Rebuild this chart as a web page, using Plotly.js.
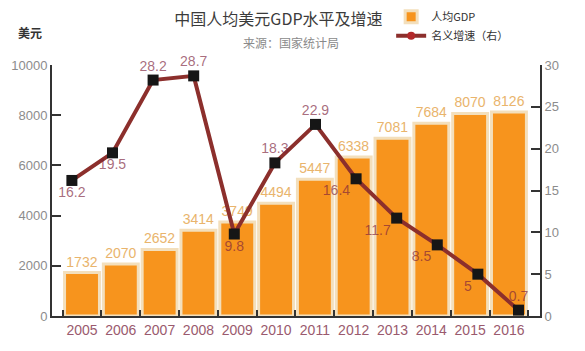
<!DOCTYPE html>
<html>
<head>
<meta charset="utf-8">
<script src="https://cdn.plot.ly/plotly-3.0.1.min.js"></script>
<style>html,body{margin:0;padding:0;background:#fff;}#chart{width:585px;height:351px;}</style>
</head>
<body>
<div id="chart"></div>
<script>
const years = ['2005','2006','2007','2008','2009','2010','2011','2012','2013','2014','2015','2016'];
const gdpPerCapita = [1732, 2070, 2652, 3414, 3749, 4494, 5447, 6338, 7081, 7684, 8070, 8126];
const nominalGrowth = [16.2, 19.5, 28.2, 28.7, 9.8, 18.3, 22.9, 16.4, 11.7, 8.5, 5, 0.7];
const growthLabelPos = ['bottom center','bottom center','top center','top center','bottom center','top center','top center','bottom left','bottom left','bottom left','bottom left','top center'];

const yearNums = years.map(Number);
const narrow = 'Liberation Sans, Arial, sans-serif';
const cjk = 'Noto Sans CJK SC, Noto Sans, sans-serif';

const barTrace = {
  type: 'bar', name: '人均GDP', x: years, y: gdpPerCapita,
  xaxis: 'x', yaxis: 'y',
  marker: {color: '#F7941D', line: {color: '#F3DFBC', width: 3}},
  width: 0.9,
  text: gdpPerCapita.map(String), textposition: 'outside',
  textfont: {family: narrow, size: 14, color: '#E9B46C'},
  cliponaxis: false, hoverinfo: 'none'
};
const lineTrace = {
  type: 'scatter', mode: 'lines+markers+text', name: '名义增速（右）',
  x: yearNums, y: nominalGrowth, xaxis: 'x2', yaxis: 'y2',
  line: {color: '#8C2F2C', width: 4},
  marker: {symbol: 'circle', size: 8, color: '#B2282A'},
  text: nominalGrowth.map(String), textposition: growthLabelPos,
  textfont: {family: narrow, size: 14, color: 'rgba(125,35,60,0.68)'},
  cliponaxis: false, hoverinfo: 'none'
};
const squareTrace = {
  type: 'scatter', mode: 'markers', showlegend: false,
  x: yearNums, y: nominalGrowth, xaxis: 'x2', yaxis: 'y2',
  marker: {symbol: 'square', size: 11, color: '#161616'},
  cliponaxis: false, hoverinfo: 'none'
};

const layout = {
  width: 585, height: 351,
  margin: {l: 52, r: 45, t: 65, b: 35, autoexpand: false},
  paper_bgcolor: '#fff', plot_bgcolor: 'rgba(0,0,0,0)',
  font: {family: cjk, color: '#333'},
  title: {text: '中国人均美元GDP水平及增速', x: 0.476, xanchor: 'center', y: 0.945, yanchor: 'middle',
          font: {family: cjk, size: 16, color: '#3b3b3b'}},
  showlegend: true,
  legend: {x: 0.695, xanchor: 'left', y: 1.25, yanchor: 'top', orientation: 'v',
           font: {family: cjk, size: 11, color: '#333'}, itemwidth: 30,
           bgcolor: 'rgba(0,0,0,0)', tracegroupgap: 2, traceorder: 'normal'},
  bargap: 0.1,
  xaxis: {type: 'category', range: [-0.773, 11.80], showgrid: false, zeroline: false,
          showline: true, linecolor: '#333', linewidth: 2,
          ticks: 'inside', tickson: 'boundaries', ticklen: 6, tickwidth: 2, tickcolor: '#333',
          tickangle: 0, automargin: false, layer: 'above traces',
          tickfont: {family: narrow, size: 14, color: '#9A5A6E'}, fixedrange: true},
  xaxis2: {type: 'linear', overlaying: 'x', anchor: 'y2', side: 'bottom', visible: false,
           range: [2004.51, 2016.53], showgrid: false, zeroline: false},
  yaxis: {range: [0, 10000], dtick: 2000, tickformat: 'd', showgrid: false, zeroline: false,
          showline: true, linecolor: '#333', linewidth: 2, ticks: 'inside', ticklen: 9,
          tickwidth: 2, tickcolor: '#333', tickfont: {family: narrow, size: 13, color: '#8C8C8C'},
          automargin: false},
  yaxis2: {range: [0, 30], dtick: 5, overlaying: 'y', side: 'right', anchor: 'x', showgrid: false,
           zeroline: false, showline: true, linecolor: '#333', linewidth: 2, ticks: 'inside',
           ticklen: 9, tickwidth: 2, tickcolor: '#333', automargin: false,
           tickfont: {family: narrow, size: 13, color: '#8C8C8C'}},
  annotations: [
    {text: '来源：国家统计局', xref: 'paper', yref: 'paper', x: 0.49, y: 1.088,
     xanchor: 'center', yanchor: 'middle', showarrow: false,
     font: {family: cjk, size: 12, color: '#8a8a8a'}},
    {text: '<b>美元</b>', xref: 'paper', yref: 'paper', x: -0.045, y: 1.13,
     xanchor: 'center', yanchor: 'middle', showarrow: false,
     font: {family: cjk, size: 12, color: '#333'}}
  ]
};

Plotly.newPlot('chart', [barTrace, lineTrace, squareTrace], layout, {displayModeBar: false, staticPlot: true});
</script>
</body>
</html>
